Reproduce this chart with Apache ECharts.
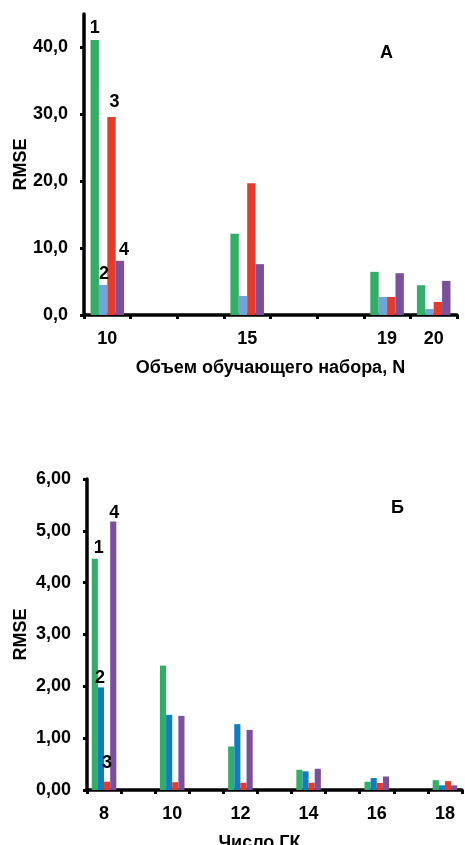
<!DOCTYPE html>
<html>
<head>
<meta charset="utf-8">
<script src="https://cdn.jsdelivr.net/npm/echarts@6/dist/echarts.min.js"></script>
<style>
html,body{margin:0;padding:0;background:#fff;}
#c{width:465px;height:845px;}
</style>
</head>
<body>
<div id="c"></div>
<script>
// Panel A
const catsA = ['10', '', '', '15', '', '', '19', '20'];
const A1 = [41.1, null, null, 12.15, null, null, 6.45, 4.45];
const A2 = [4.5, null, null, 2.85, null, null, 2.7, 0.9];
const A3 = [29.6, null, null, 19.7, null, null, 2.7, 1.95];
const A4 = [8.1, null, null, 7.6, null, null, 6.25, 5.1];
const ticksA = [0, 10, 20, 30, 40];

// Panel B
const catsB = ['8', '9', '10', '11', '12', '13', '14', '15', '16', '17', '18'];
const B1 = [4.46, null, 2.40, null, 0.84, null, 0.39, null, 0.16, null, 0.19];
const B2 = [1.98, null, 1.45, null, 1.27, null, 0.36, null, 0.23, null, 0.09];
const B3 = [0.16, null, 0.15, null, 0.14, null, 0.14, null, 0.135, null, 0.17];
const B4 = [5.18, null, 1.43, null, 1.16, null, 0.41, null, 0.26, null, 0.09];

const seriesNames = ['1', '2', '3', '4'];

const FONT = 'Liberation Sans, Arial, sans-serif';
const FS = 18;
const GREEN = '#33AE68', LBLUE = '#6FA6DA', BLUE = '#0E7DC2', RED = '#E63B2A', PURPLE = '#7A4F9C';

function withLabel(arr, text, offset) {
  return arr.map((v, i) => i === 0 ? {
    value: v,
    label: { show: true, position: 'top', distance: 4, formatter: text, offset: offset,
      color: '#000', fontFamily: FONT, fontWeight: 'bold', fontSize: FS }
  } : v);
}

const axisLineStyle = { color: '#000', width: 3.5 };

function xAxisCfg(idx, cats, labelInterval, name, nameGap, namePad) {
  return {
    type: 'category', gridIndex: idx, data: cats,
    axisLine: { show: true, lineStyle: axisLineStyle },
    axisTick: { show: true, interval: 0, length: 4, lineStyle: { color: '#000', width: 3 } },
    axisLabel: { interval: labelInterval, margin: 15, color: '#000', fontFamily: FONT, fontWeight: 'bold', fontSize: FS },
    name: name, nameLocation: 'middle', nameGap: nameGap, nameMoveOverlap: false,
    nameTextStyle: { color: '#000', fontFamily: FONT, fontWeight: 'bold', fontSize: FS, padding: namePad },
    splitLine: { show: false }
  };
}

function yAxisCfg(idx, max, interval, digits, ticks, nameGap) {
  const lab = { margin: 16, color: '#000', fontFamily: FONT, fontWeight: 'bold', fontSize: FS,
    formatter: v => v.toFixed(digits).replace('.', ',') };
  const tick = { show: true, length: 4, lineStyle: { color: '#000', width: 3 } };
  if (ticks) { lab.customValues = ticks; tick.customValues = ticks; }
  return {
    type: 'value', gridIndex: idx, min: 0, max: max, interval: interval,
    axisLine: { show: true, lineStyle: axisLineStyle },
    axisTick: tick, axisLabel: lab,
    splitLine: { show: false },
    name: 'RMSE', nameLocation: 'middle', nameGap: nameGap, nameMoveOverlap: false,
    nameTextStyle: { color: '#000', fontFamily: FONT, fontWeight: 'bold', fontSize: FS }
  };
}

function bar(name, data, color, xi) {
  return { name: name, type: 'bar', xAxisIndex: xi, yAxisIndex: xi, data: data,
    barGap: '0%', barCategoryGap: '28%', itemStyle: { color: color }, animation: false };
}

const chart = echarts.init(document.getElementById('c'), null, { renderer: 'canvas' });
chart.setOption({
  animation: false,
  backgroundColor: '#fff',
  title: [
    { text: 'А', left: 375, top: 39, textStyle: { color: '#000', fontFamily: FONT, fontWeight: 'bold', fontSize: FS } },
    { text: 'Б', left: 386, top: 494, textStyle: { color: '#000', fontFamily: FONT, fontWeight: 'bold', fontSize: FS } }
  ],
  grid: [
    { left: 84, top: 14, width: 373, height: 301, containLabel: false, outerBoundsMode: 'none' },
    { left: 87, top: 479, width: 375, height: 311, containLabel: false, outerBoundsMode: 'none' }
  ],
  xAxis: [
    xAxisCfg(0, catsA, 0, 'Объем обучающего набора, N', 44, [0, 0, 0, 0]),
    xAxisCfg(1, catsB, 1, 'Число ГК', 44, [0, 30, 0, 0])
  ],
  yAxis: [
    yAxisCfg(0, 45, 10, 1, ticksA, 54),
    yAxisCfg(1, 6, 1, 2, null, 57)
  ],
  series: [
    bar(seriesNames[0], withLabel(A1, '1', [0, 1]), GREEN, 0),
    bar(seriesNames[1], withLabel(A2, '2', [1, 2]), LBLUE, 0),
    bar(seriesNames[2], withLabel(A3, '3', [3, -2]), RED, 0),
    bar(seriesNames[3], withLabel(A4, '4', [4, 2]), PURPLE, 0),
    bar(seriesNames[0], withLabel(B1, '1', [4, 2]), GREEN, 1),
    bar(seriesNames[1], withLabel(B2, '2', [-1, 4]), BLUE, 1),
    bar(seriesNames[2], withLabel(B3, '3', [0, -6]), RED, 1),
    bar(seriesNames[3], withLabel(B4, '4', [1, 5]), PURPLE, 1)
  ]
});
</script>
</body>
</html>
